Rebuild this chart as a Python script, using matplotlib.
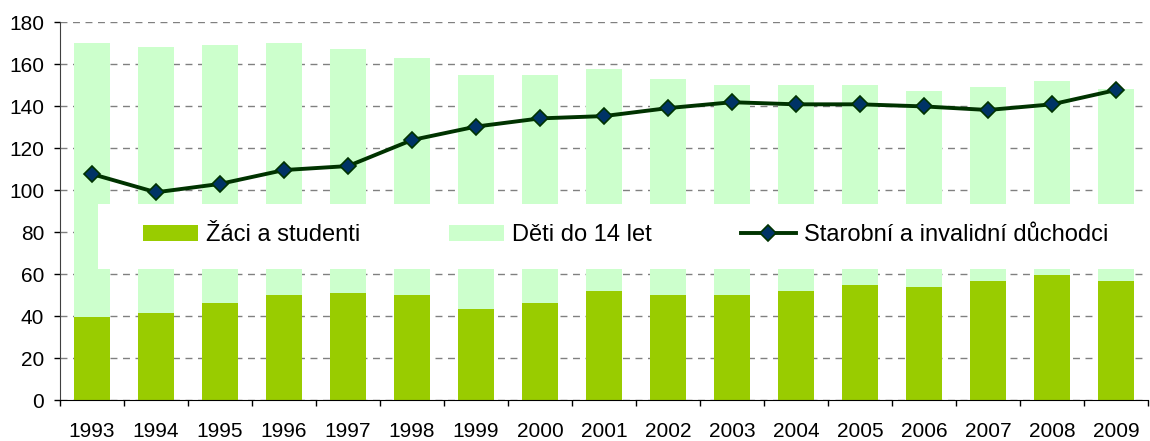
import matplotlib
matplotlib.use("Agg")
import matplotlib.pyplot as plt
from matplotlib.patches import Rectangle
import numpy as np

years = ["1993", "1994", "1995", "1996", "1997", "1998", "1999", "2000", "2001",
         "2002", "2003", "2004", "2005", "2006", "2007", "2008", "2009"]
zaci = [39.5, 41.3, 46.2, 50.0, 51.0, 50.0, 43.3, 46.2, 52.0,
        50.0, 50.0, 52.0, 54.8, 53.9, 56.9, 59.6, 56.9]
deti = [130.5, 126.7, 122.8, 120.0, 116.0, 113.0, 111.3, 108.4, 105.6,
        102.9, 100.0, 98.0, 95.2, 93.2, 92.1, 92.4, 91.2]
duchodci = [107.6, 98.9, 102.9, 109.5, 111.4, 123.8, 130.2, 134.1, 135.2,
            139.0, 141.8, 140.8, 140.8, 139.8, 138.1, 140.8, 147.6]
labels = ["Žáci a studenti", "Děti do 14 let", "Starobní a invalidní důchodci"]

plt.rcParams['font.family'] = ['Liberation Sans', 'DejaVu Sans']
FS = 15
LFS = 17

fig = plt.figure(figsize=(11.5, 4.41), dpi=100)
ax = fig.add_axes([60 / 1150, 41 / 441, 1088 / 1150, 378 / 441])

x = np.arange(len(years))
w = 0.56
b1 = ax.bar(x, zaci, w, color="#99CC00", zorder=2, label=labels[0])
b2 = ax.bar(x, deti, w, bottom=zaci, color="#CCFFCC", zorder=2, label=labels[1])
ln, = ax.plot(x, duchodci, color="#003300", lw=2.8, marker="D", markersize=8.5,
              markerfacecolor="#003366", markeredgecolor="#003300",
              markeredgewidth=1.2, zorder=5, label=labels[2])

ax.set_xlim(-0.5, len(years) - 0.5)
ax.set_ylim(0, 180)
ax.set_yticks(np.arange(0, 181, 20))
ax.yaxis.grid(True, linestyle=(0, (5, 4)), color="#808080", lw=1.0, zorder=0)
ax.set_axisbelow(True)

ax.set_xticks(np.arange(-0.5, len(years), 1.0))
ax.set_xticklabels([])
ax.set_xticks(x, minor=True)
ax.set_xticklabels(years, minor=True)
ax.tick_params(axis="x", which="major", length=4.3, direction="out", width=1)
ax.tick_params(axis="x", which="minor", length=0, pad=16, labelsize=FS)
ax.tick_params(axis="y", length=4.3, direction="out", width=1, pad=7, labelsize=FS)

for s in ("top", "right"):
    ax.spines[s].set_visible(False)
ax.spines["left"].set_color("#404040")
ax.spines["bottom"].set_color("#000000")

# legend background (white box inside plot area)
ax.add_patch(Rectangle((0.09, 62.5), 20, 31.0, facecolor="white", edgecolor="none",
                       zorder=3, clip_on=True))

leg = ax.legend(handles=[b1, b2, ln], labels=labels, ncol=3, frameon=False,
                loc="center left", bbox_to_anchor=(0.80, 78.5),
                bbox_transform=ax.transData, borderpad=0, borderaxespad=0,
                handlelength=2.33, handleheight=0.71, handletextpad=0.34,
                columnspacing=3.76, fontsize=LFS)
leg.set_zorder(6)

fig.savefig("out.png", dpi=100)
